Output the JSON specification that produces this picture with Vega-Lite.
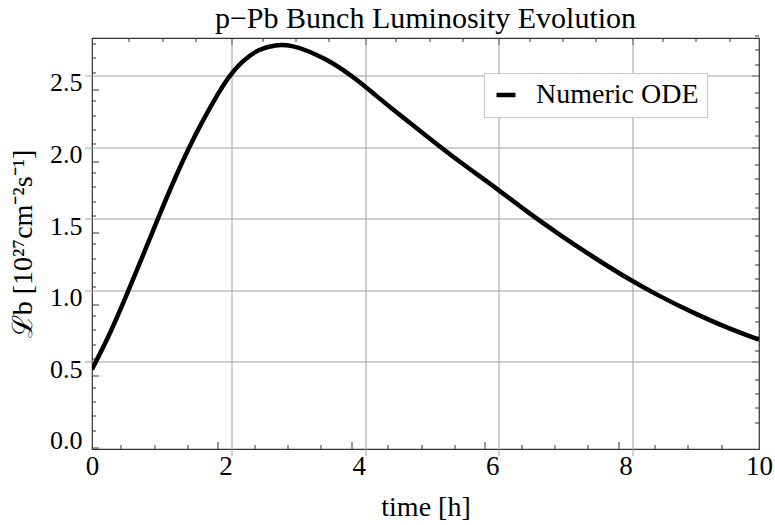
{
  "$schema": "https://vega.github.io/schema/vega-lite/v6.json",
  "autosize": "none",
  "width": 667,
  "height": 411,
  "padding": {"left": 92, "top": 38, "right": 16, "bottom": 76},
  "background": "white",
  "config": {
    "view": {"stroke": "#333", "strokeWidth": 1.2},
    "font": "Liberation Serif",
    "axis": {"domain": false, "labelFont": "Liberation Serif", "titleFont": "Liberation Serif", "labelColor": "black", "titleColor": "black", "titleFontWeight": "normal", "tickColor": "#333", "gridColor": "#a0a0a0", "gridWidth": 1}
  },
  "title": {"text": "p\u2212Pb Bunch Luminosity Evolution", "font": "Liberation Serif", "fontSize": 30, "fontWeight": "normal", "color": "black", "offset": -3, "anchor": "middle"},
  "data": {"values": [
    {"t": 0, "v": 0.50, "s": "Numeric ODE"},
    {"t": 0.25, "v": 0.735, "s": "Numeric ODE"},
    {"t": 0.5, "v": 1.00, "s": "Numeric ODE"},
    {"t": 0.75, "v": 1.28, "s": "Numeric ODE"},
    {"t": 1.0, "v": 1.565, "s": "Numeric ODE"},
    {"t": 1.25, "v": 1.84, "s": "Numeric ODE"},
    {"t": 1.5, "v": 2.09, "s": "Numeric ODE"},
    {"t": 1.75, "v": 2.31, "s": "Numeric ODE"},
    {"t": 2.0, "v": 2.505, "s": "Numeric ODE"},
    {"t": 2.25, "v": 2.645, "s": "Numeric ODE"},
    {"t": 2.5, "v": 2.728, "s": "Numeric ODE"},
    {"t": 2.75, "v": 2.762, "s": "Numeric ODE"},
    {"t": 3.0, "v": 2.757, "s": "Numeric ODE"},
    {"t": 3.25, "v": 2.72, "s": "Numeric ODE"},
    {"t": 3.5, "v": 2.665, "s": "Numeric ODE"},
    {"t": 3.75, "v": 2.595, "s": "Numeric ODE"},
    {"t": 4.0, "v": 2.51, "s": "Numeric ODE"},
    {"t": 4.25, "v": 2.415, "s": "Numeric ODE"},
    {"t": 4.5, "v": 2.32, "s": "Numeric ODE"},
    {"t": 5.0, "v": 2.135, "s": "Numeric ODE"},
    {"t": 5.5, "v": 1.955, "s": "Numeric ODE"},
    {"t": 6.0, "v": 1.785, "s": "Numeric ODE"},
    {"t": 6.5, "v": 1.61, "s": "Numeric ODE"},
    {"t": 7.0, "v": 1.445, "s": "Numeric ODE"},
    {"t": 7.5, "v": 1.29, "s": "Numeric ODE"},
    {"t": 8.0, "v": 1.145, "s": "Numeric ODE"},
    {"t": 8.5, "v": 1.015, "s": "Numeric ODE"},
    {"t": 9.0, "v": 0.90, "s": "Numeric ODE"},
    {"t": 9.5, "v": 0.797, "s": "Numeric ODE"},
    {"t": 10.0, "v": 0.707, "s": "Numeric ODE"}
  ]},
  "resolve": {"axis": {"x": "independent", "y": "independent"}},
  "layer": [
    {
      "mark": {"type": "line", "strokeWidth": 4.5, "interpolate": "natural", "clip": true},
      "encoding": {
        "x": {"field": "t", "type": "quantitative", "scale": {"domain": [0, 10], "nice": false, "zero": false},
          "axis": {"orient": "bottom", "values": [0, 2, 4, 6, 8, 10], "ticks": false, "grid": false, "labelFontSize": 27, "labelPadding": 4, "labelFlush": false, "title": "time [h]", "titleFontSize": 28, "titlePadding": 14}},
        "y": {"field": "v", "type": "quantitative", "scale": {"domain": [-0.056, 2.814], "nice": false, "zero": false},
          "axis": {"orient": "left", "values": [0, 0.5, 1, 1.5, 2, 2.5], "format": ".1f", "ticks": false, "grid": false, "labelFontSize": 26, "labelPadding": 10, "labelFlush": false, "title": "\u2112b [10\u00b2\u2077cm\u207b\u00b2s\u207b\u00b9]", "titleFontSize": 28, "titlePadding": 12}},
        "color": {"field": "s", "type": "nominal", "scale": {"range": ["black"]},
          "legend": {"title": null, "orient": "none", "legendX": 392, "legendY": 35, "padding": 8, "fillColor": "white", "strokeColor": "#c8c8c8", "symbolType": "stroke", "symbolSize": 361, "symbolStrokeWidth": 4.5, "labelFont": "Liberation Serif", "labelFontSize": 28, "labelColor": "black", "labelOffset": 16, "labelLimit": 400}}
      }
    },
    {
      "mark": {"type": "line", "strokeOpacity": 0},
      "encoding": {
        "x": {"field": "t", "type": "quantitative", "axis": {"orient": "bottom", "values": [2, 4, 6, 8], "labels": false, "tickSize": 7, "grid": false, "title": null, "translate": -7}},
        "y": {"field": "v", "type": "quantitative", "axis": {"orient": "left", "values": [0, 0.5, 1, 1.5, 2, 2.5], "labels": false, "tickSize": 7, "grid": false, "title": null, "translate": 7}}
      }
    },
    {
      "mark": {"type": "line", "strokeOpacity": 0},
      "encoding": {
        "x": {"field": "t", "type": "quantitative", "axis": {"orient": "bottom", "values": [0.5, 1, 1.5, 2.5, 3, 3.5, 4.5, 5, 5.5, 6.5, 7, 7.5, 8.5, 9, 9.5], "labels": false, "tickSize": 4, "grid": false, "title": null, "translate": -4}},
        "y": {"field": "v", "type": "quantitative", "axis": {"orient": "left", "values": [0.1, 0.2, 0.3, 0.4, 0.6, 0.7, 0.8, 0.9, 1.1, 1.2, 1.3, 1.4, 1.6, 1.7, 1.8, 1.9, 2.1, 2.2, 2.3, 2.4, 2.6, 2.7, 2.8], "labels": false, "tickSize": 4, "grid": false, "title": null, "translate": 4}}
      }
    },
    {
      "mark": {"type": "line", "strokeOpacity": 0},
      "encoding": {
        "x": {"field": "t", "type": "quantitative", "axis": {"orient": "top", "values": [2, 4, 6, 8], "labels": false, "tickSize": 7, "grid": true, "title": null, "translate": 7}},
        "y": {"field": "v", "type": "quantitative", "axis": {"orient": "right", "values": [0.5, 1, 1.5, 2, 2.5], "labels": false, "tickSize": 7, "grid": true, "title": null, "translate": -7}}
      }
    },
    {
      "mark": {"type": "line", "strokeOpacity": 0},
      "encoding": {
        "x": {"field": "t", "type": "quantitative", "axis": {"orient": "top", "values": [0.5, 1, 1.5, 2.5, 3, 3.5, 4.5, 5, 5.5, 6.5, 7, 7.5, 8.5, 9, 9.5], "labels": false, "tickSize": 4, "grid": false, "title": null, "translate": 4}},
        "y": {"field": "v", "type": "quantitative", "axis": {"orient": "right", "values": [0.1, 0.2, 0.3, 0.4, 0.6, 0.7, 0.8, 0.9, 1.1, 1.2, 1.3, 1.4, 1.6, 1.7, 1.8, 1.9, 2.1, 2.2, 2.3, 2.4, 2.6, 2.7, 2.8], "labels": false, "tickSize": 4, "grid": false, "title": null, "translate": -4}}
      }
    }
  ]
}
